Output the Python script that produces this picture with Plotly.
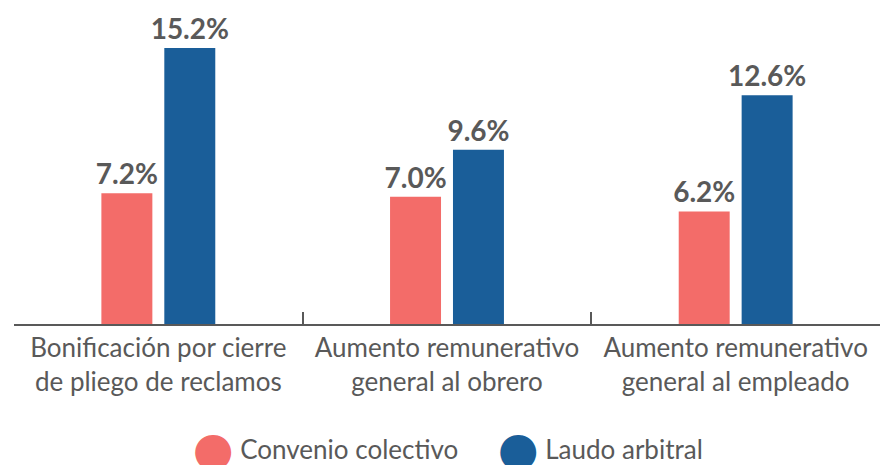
import plotly.graph_objects as go

# chart data
categorias = [
    "Bonificación por cierre<br>de pliego de reclamos",
    "Aumento remunerativo<br>general al obrero",
    "Aumento remunerativo<br>general al empleado",
]
convenio = [7.2, 7.0, 6.2]
laudo = [15.2, 9.6, 12.6]

series = ["Convenio colectivo", "Laudo arbitral"]
colores = ["#F36C69", "#1A5E99"]
gris = "#595959"

fig = go.Figure()

for nombre, valores, color in zip(series, [convenio, laudo], colores):
    fig.add_trace(go.Bar(
        x=categorias,
        y=valores,
        name=nombre,
        marker_color=color,
        texttemplate="%{y:.1f}%",
        textposition="outside",
        textfont=dict(family="Lato", size=28, color=gris, weight="bold"),
        constraintext="none",
        cliponaxis=False,
        showlegend=False,
    ))

# legend entries: big round dot drawn as a glyph in the entry text
for nombre, color in zip(series, colores):
    punto = (f"<span style='color:{color};font-size:47px;font-family:DejaVu Sans;"
             f"baseline-shift:-6px'>●</span>")
    fig.add_trace(go.Scatter(
        x=[None], y=[None],
        mode="none",
        name=punto + "\u00a0" + nombre,
    ))

fig.update_layout(
    width=883,
    height=465,
    template="none",
    paper_bgcolor="white",
    plot_bgcolor="white",
    margin=dict(l=14, r=3, t=0, b=141, autoexpand=False),
    barmode="group",
    bargap=0.564,
    bargroupgap=0.19,
    font=dict(family="Lato", color=gris, size=26),
    legend=dict(
        orientation="h",
        x=0.160, xanchor="left",
        y=-0.386, yanchor="middle",
        itemwidth=30,
        entrywidth=260,
        font=dict(family="Lato", size=26, color=gris),
    ),
    xaxis=dict(
        showline=True,
        linecolor=gris,
        linewidth=2,
        ticks="inside",
        tickson="boundaries",
        ticklen=12,
        tickwidth=2,
        tickcolor=gris,
        showgrid=False,
        automargin=False,
        tickfont=dict(family="Lato", size=26, color=gris),
    ),
    yaxis=dict(visible=False, range=[0, 17.84], automargin=False),
)

fig.write_html(
    "out.html",
    config={"displayModeBar": False},
    post_script="document.body.style.margin='0';",
)
